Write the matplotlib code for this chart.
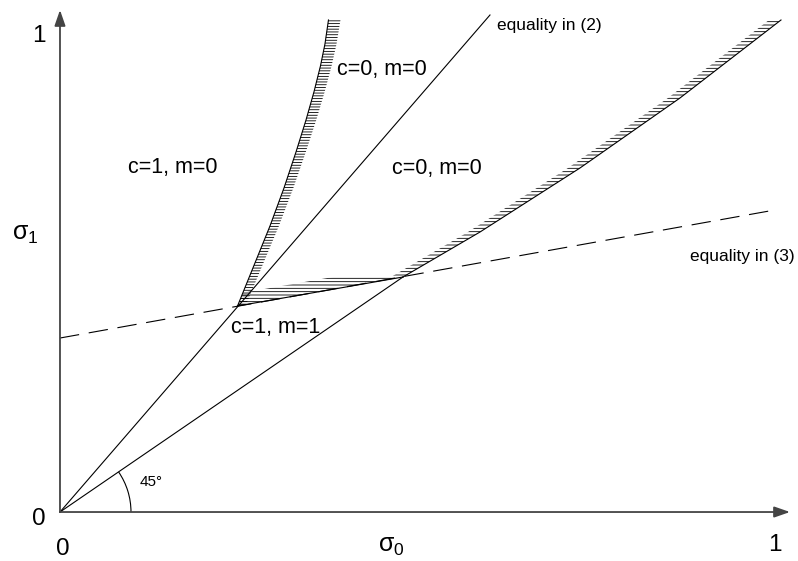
import numpy as np
import matplotlib
matplotlib.use("Agg")
import matplotlib.pyplot as plt
from matplotlib.patches import Arc
from matplotlib.transforms import IdentityTransform

plt.rcParams['font.family'] = ['Liberation Sans', 'DejaVu Sans']
plt.rcParams['mathtext.fontset'] = 'custom'
plt.rcParams['mathtext.rm'] = 'Liberation Sans'
plt.rcParams['mathtext.it'] = 'Liberation Sans'
plt.rcParams['mathtext.default'] = 'regular'
plt.rcParams['hatch.linewidth'] = 0.6
plt.rcParams['lines.scale_dashes'] = False

# ---- data (sigma_0, sigma_1 units) ----
origin = (0.0, 0.0)
eq2_end = (0.6014, 1.0441)          # line "equality in (2)" from origin
P1 = (0.2483, 0.4328)               # kink on equality (2) line
P2 = (0.4797, 0.4937)               # kink on lower ray
eq3_x = [0.0, 1.0]                  # dashed line "equality in (3)"
eq3_y = [0.3655, 0.6345]

left_x = [0.2483, 0.2727, 0.2937, 0.3133, 0.3301, 0.3441, 0.3552, 0.3643, 0.3706, 0.3755]
left_y = [0.4328, 0.5231, 0.6008, 0.6807, 0.7563, 0.8235, 0.8824, 0.9370, 0.9832, 1.0336]

right_x = [0.4797, 0.5874, 0.7273, 0.8671, 1.0084]
right_y = [0.4937, 0.5882, 0.7227, 0.8697, 1.0336]

region_labels = ["c=1, m=0", "c=0, m=0", "c=0, m=0", "c=1, m=1"]
region_pos = [(0.158, 0.7227), (0.4503, 0.9286), (0.5273, 0.7216), (0.302, 0.3866)]

# ---- figure ----
fig = plt.figure(figsize=(7.98, 5.61), dpi=100)
ax = fig.add_axes([0, 0, 1, 1])
ax.set_xlim(-0.0839, 1.0322)
ax.set_ylim(-0.1029, 1.0756)
ax.axis('off')

PX = 1 / 715.0   # one pixel in x data units (styling offsets)

lc = 'black'
lw = 0.8

# axes with arrows
axc = '#444444'
ap = dict(arrowstyle='-|>,head_length=0.95,head_width=0.33', color=axc, lw=1.3,
          shrinkA=0, shrinkB=0, mutation_scale=10)
ax.annotate('', xy=(1.021, 0), xytext=origin, arrowprops=ap)
ax.annotate('', xy=(0, 1.0546), xytext=origin, arrowprops=ap)

# rays
ax.plot([origin[0], eq2_end[0]], [origin[1], eq2_end[1]], color=lc, lw=lw)
ax.plot([origin[0], P2[0]], [origin[1], P2[1]], color=lc, lw=lw)
# dashed line
ax.plot(eq3_x, eq3_y, color=lc, lw=lw, dashes=(14, 7))
# segment P1-P2
ax.plot([P1[0], P2[0]], [P1[1], P2[1]], color=lc, lw=lw)

# curves
lx = np.array(left_x); ly = np.array(left_y)
rx = np.array(right_x); ry = np.array(right_y)
ax.plot(lx, ly, color=lc, lw=lw)
ax.plot(rx, ry, color=lc, lw=lw)

# hatching (decorative band alongside boundaries)
wl = np.linspace(8, 12, len(lx)) * PX
ax.fill_betweenx(ly, lx, lx + wl, facecolor='none', edgecolor='black',
                 linewidth=0, hatch='------')
ax.fill_betweenx(ry, rx - 12 * PX, rx, facecolor='none', edgecolor='black',
                 linewidth=0, hatch='-----')
ys = np.linspace(P1[1], P2[1], 60)
xs = np.interp(ys, [P1[1], P2[1]], [P1[0], P2[0]])
xl = np.maximum(xs - 70 * PX, np.interp(ys, ly, lx))
ax.fill_betweenx(ys, xl, xs, facecolor='none', edgecolor='black',
                 linewidth=0, hatch='-----')

# 45 degree arc (drawn in pixel space)
fig.canvas.draw()
o_disp = ax.transData.transform(origin)
b_disp = ax.transData.transform(P2)
ang = np.degrees(np.arctan2(b_disp[1] - o_disp[1], b_disp[0] - o_disp[0]))
arc = Arc(o_disp, 142, 142, theta1=0, theta2=ang, transform=IdentityTransform(),
          color=lc, lw=lw)
ax.add_artist(arc)

# texts
for s, (x, y) in zip(region_labels, region_pos):
    ax.text(x, y, s, fontsize=15.5, ha='center', va='center')
ax.text(0.611, 1.023, "equality in (2)", fontsize=12.5, ha='left', va='center')
ax.text(0.881, 0.5374, "equality in (3)", fontsize=12.5, ha='left', va='center')
ax.text(0.127, 0.063, "45°", fontsize=11, ha='center', va='center')

ax.text(-0.0294, -0.0147, "0", fontsize=17.5, ha='center', va='center')
ax.text(0.0042, -0.0777, "0", fontsize=17.5, ha='center', va='center')
ax.text(-0.0294, 1.0, "1", fontsize=17.5, ha='center', va='center')
ax.text(1.0, -0.069, "1", fontsize=17.5, ha='center', va='center')
ax.text(-0.049, 0.584, r"$\sigma_1$", fontsize=18, ha='center', va='center')
ax.text(0.464, -0.071, r"$\sigma_0$", fontsize=18, ha='center', va='center')

fig.savefig('out.png', dpi=100)
